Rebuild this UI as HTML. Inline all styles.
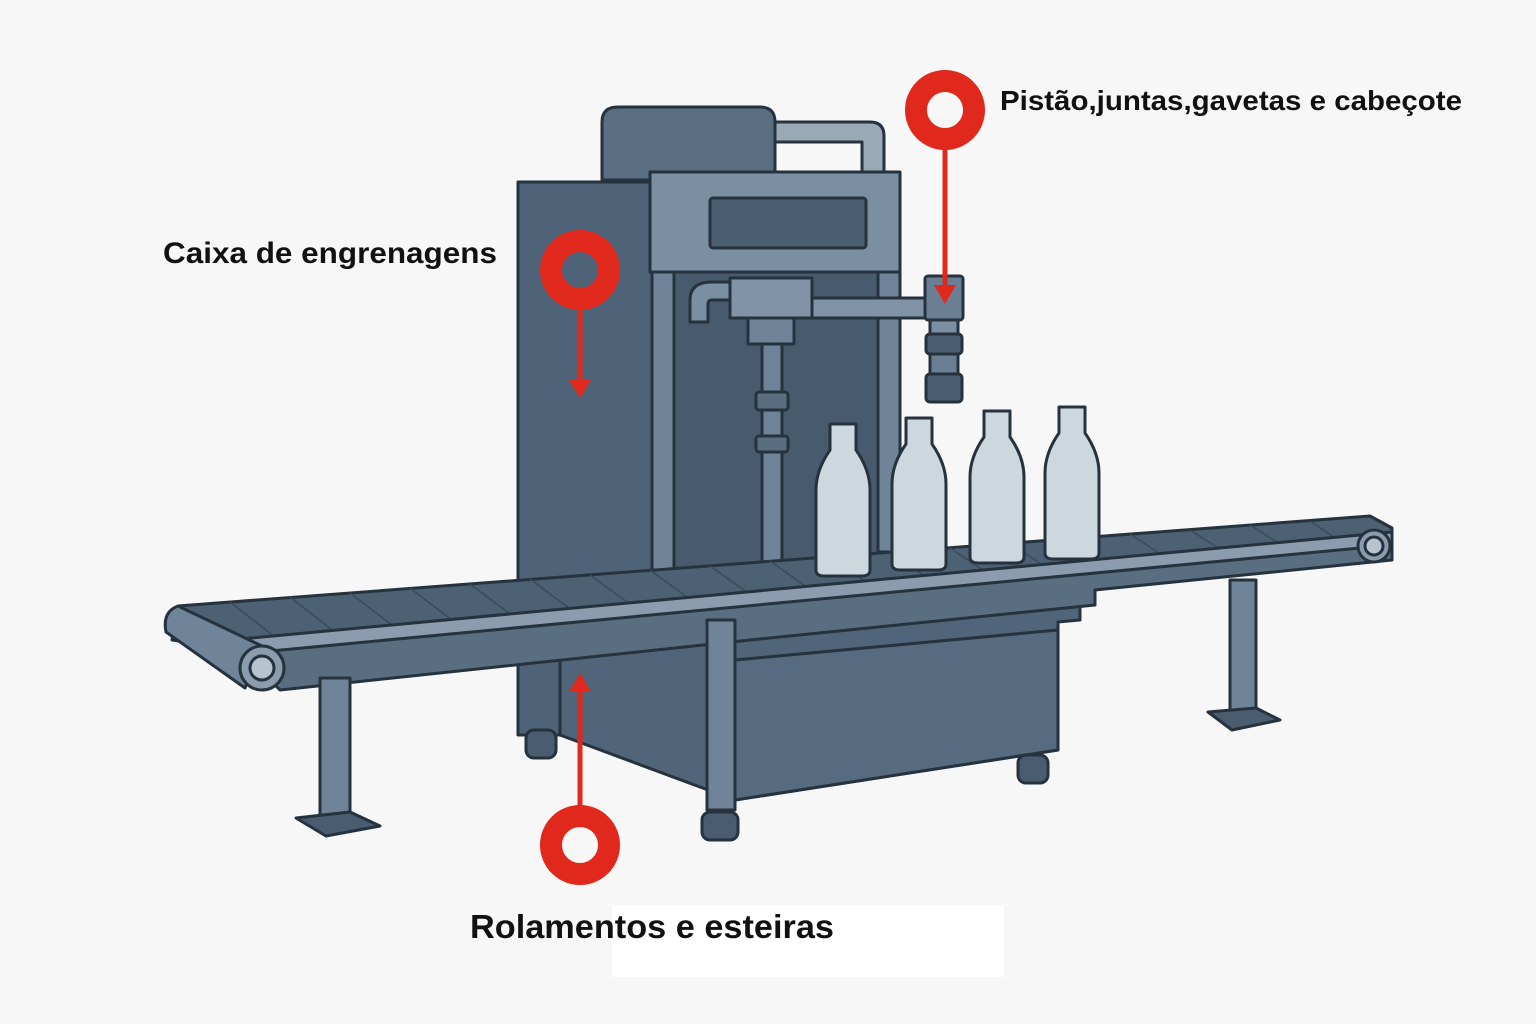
<!DOCTYPE html>
<html><head><meta charset="utf-8"><style>
html,body{margin:0;padding:0;background:#f7f7f7}
svg{display:block}
text{font-family:"Liberation Sans",sans-serif;font-weight:bold;fill:#111}
</style></head><body>
<svg width="1536" height="1024" viewBox="0 0 1536 1024" xmlns="http://www.w3.org/2000/svg">
<rect width="1536" height="1024" fill="#f7f7f7"/>
<rect x="612" y="905" width="392" height="72" fill="#ffffff"/>
<g stroke="#26323d" stroke-width="3" stroke-linejoin="round">
<path d="M770 122 H870 Q884 122 884 136 V172 H862 V142 H770 Z" fill="#9aa9b6"/>
<path d="M602 180 V122 Q602 107 618 107 H760 Q775 107 775 122 V180 Z" fill="#5b6f83"/>
<rect x="518" y="182" width="134" height="553" fill="#4e6377"/>
<polygon points="560,640 1080,600 1080,620 1058,622 1058,750 735,800 560,735" fill="#506579"/>
<polygon points="735,660 1058,630 1058,750 735,800" fill="#566b7f"/>
<rect x="650" y="172" width="250" height="100" fill="#7b8fa3"/>
<rect x="710" y="198" width="156" height="50" rx="3" fill="#4a5e72"/>
<rect x="672" y="272" width="210" height="300" fill="#485b6e"/>
<rect x="652" y="272" width="22" height="300" fill="#6f8498"/>
<rect x="878" y="272" width="22" height="280" fill="#6f8498"/>
<path d="M690 322 V300 Q690 282 712 282 H730 V300 H712 Q708 300 708 304 V322 Z" fill="#7b8fa3"/>
<rect x="730" y="278" width="82" height="40" fill="#8194a7"/>
<rect x="812" y="298" width="120" height="20" fill="#8194a7"/>
<rect x="748" y="318" width="46" height="26" fill="#6f8498"/>
<rect x="762" y="344" width="20" height="220" fill="#6f8498"/>
<rect x="756" y="392" width="32" height="18" rx="3" fill="#5a6e82"/>
<rect x="756" y="436" width="32" height="16" rx="3" fill="#5a6e82"/>
<rect x="925" y="276" width="38" height="44" rx="3" fill="#6a7f93"/>
<rect x="930" y="320" width="28" height="14" fill="#7b8fa3"/>
<rect x="926" y="334" width="36" height="20" rx="4" fill="#4a5d70"/>
<rect x="930" y="354" width="28" height="20" fill="#6a7f93"/>
<rect x="926" y="374" width="36" height="28" rx="4" fill="#4a5d70"/>
<!-- conveyor top surface -->
<polygon points="178,606 1370,516 1392,528 1392,540 240,650 172,640" fill="#4d6175"/>
</g>
<!-- belt stripes -->
<g stroke="#3a4b5c" stroke-width="1.5">
<path d="M230 602 L285 645 M290 597 L345 640 M350 593 L405 635 M410 588 L465 630 M470 584 L525 625 M530 579 L585 620 M590 575 L645 615 M650 570 L705 610 M710 566 L765 605 M770 561 L825 600 M830 557 L885 595 M890 552 L945 590 M950 548 L1005 585 M1010 543 L1065 580 M1070 539 L1125 575 M1130 534 L1185 570 M1190 530 L1245 565 M1250 525 L1305 560 M1310 521 L1360 555"/>
</g>
<g stroke="#26323d" stroke-width="3" stroke-linejoin="round">
<polygon points="240,650 1392,540 1392,560 1095,590 1095,605 750,640 280,690" fill="#5a6e82"/>
<polygon points="230,640 1392,532 1392,545 260,652" fill="#8a9cad"/>
<path d="M178 606 Q162 612 166 632 L245 688 L262 646 Z" fill="#6f8498"/>
<circle cx="262" cy="668" r="22" fill="#8a9cad"/>
<circle cx="262" cy="668" r="12" fill="#b7c3cd"/>
<circle cx="1374" cy="546" r="16" fill="#8a9cad"/>
<circle cx="1374" cy="546" r="9" fill="#b7c3cd"/>
<rect x="320" y="678" width="30" height="142" fill="#6f8498"/>
<polygon points="296,818 350,812 380,826 326,836" fill="#4a5d70"/>
<rect x="707" y="620" width="28" height="190" fill="#6f8498"/>
<rect x="702" y="812" width="36" height="28" rx="8" fill="#4a5d70"/>
<rect x="1230" y="580" width="26" height="135" fill="#6f8498"/>
<polygon points="1208,712 1256,708 1280,720 1232,730" fill="#4a5d70"/>
<rect x="526" y="730" width="30" height="28" rx="8" fill="#4a5d70"/>
<rect x="1018" y="755" width="30" height="28" rx="8" fill="#4a5d70"/>
<g fill="#cdd7de">
<path d="M830 424 h26 v26 q14 20 14 40 v80 q0 6 -8 6 h-38 q-8 0 -8 -6 v-80 q0 -20 14 -40 z"/>
<path d="M906 418 h26 v26 q14 20 14 40 v80 q0 6 -8 6 h-38 q-8 0 -8 -6 v-80 q0 -20 14 -40 z"/>
<path d="M984 411 h26 v26 q14 20 14 40 v80 q0 6 -8 6 h-38 q-8 0 -8 -6 v-80 q0 -20 14 -40 z"/>
<path d="M1059 407 h26 v26 q14 20 14 40 v80 q0 6 -8 6 h-38 q-8 0 -8 -6 v-80 q0 -20 14 -40 z"/>
</g>
</g>
<g fill="none" stroke="#e0281c">
<circle cx="945" cy="110" r="29" stroke-width="22"/>
<circle cx="580" cy="270" r="29" stroke-width="22"/>
<circle cx="580" cy="845" r="29" stroke-width="22"/>
<line x1="945" y1="148" x2="945" y2="290" stroke-width="5"/>
<line x1="580" y1="308" x2="580" y2="385" stroke-width="5"/>
<line x1="580" y1="807" x2="580" y2="688" stroke-width="5"/>
</g>
<g fill="#e0281c">
<polygon points="934,285 956,285 945,304"/>
<polygon points="569,380 591,380 580,398"/>
<polygon points="569,692 591,692 580,673"/>
</g>
<text x="1000" y="110" font-size="28" textLength="462" lengthAdjust="spacingAndGlyphs">Pistão,juntas,gavetas e cabeçote</text>
<text x="163" y="263" font-size="30" textLength="334" lengthAdjust="spacingAndGlyphs">Caixa de engrenagens</text>
<text x="470" y="938" font-size="33" textLength="364" lengthAdjust="spacingAndGlyphs">Rolamentos e esteiras</text>
</svg>
</body></html>
